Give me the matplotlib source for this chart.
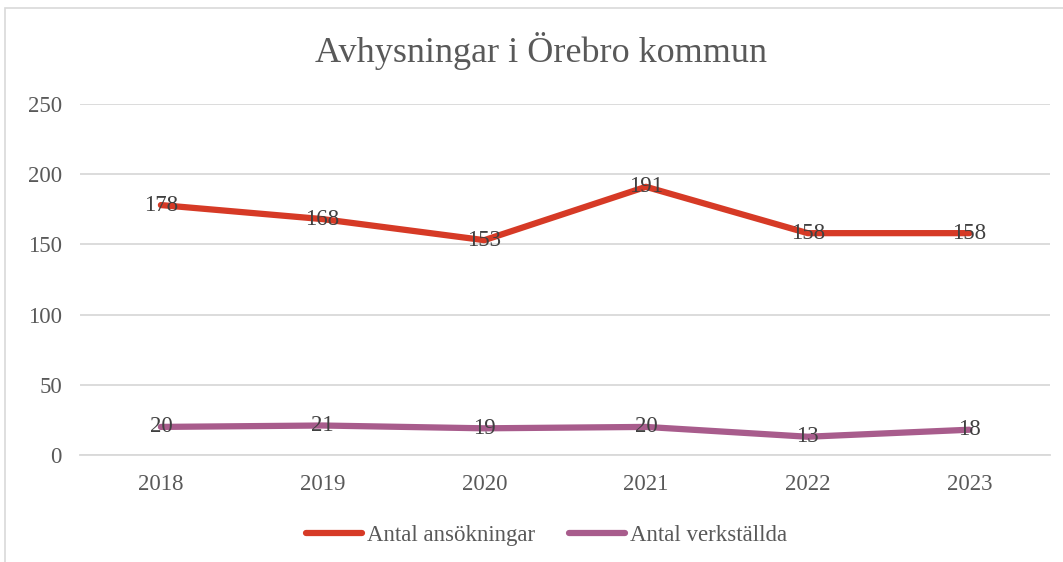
import matplotlib.pyplot as plt
from matplotlib.patches import Rectangle

years = ['2018', '2019', '2020', '2021', '2022', '2023']
ansokningar = [178, 168, 153, 191, 158, 158]
verkstallda = [20, 21, 19, 20, 13, 18]

red = '#D63A26'
purple = '#A85C8C'
text_col = '#595959'

plt.rcParams['font.family'] = ['Liberation Serif', 'DejaVu Serif']

fig = plt.figure(figsize=(10.63, 5.62), dpi=100)
ax = fig.add_axes([0.0753, 0.1904, 0.9127, 0.6246])

x = list(range(len(years)))
ax.plot(x, ansokningar, color=red, lw=4.5, solid_capstyle='round', label='Antal ansökningar', zorder=3)
ax.plot(x, verkstallda, color=purple, lw=4.5, solid_capstyle='round', label='Antal verkställda', zorder=3)

# data labels centred on the points
for xi, v in zip(x, ansokningar):
    ax.text(xi, v, str(v), ha='center', va='center', fontsize=16.5, color='#404040', zorder=4)
for xi, v in zip(x, verkstallda):
    ax.text(xi, v, str(v), ha='center', va='center', fontsize=16.5, color='#404040', zorder=4)

ax.set_xlim(-0.5, 5.5)
ax.set_ylim(0, 250)
ax.set_yticks([0, 50, 100, 150, 200, 250])
ax.set_xticks(x)
ax.set_xticklabels(years)
ax.grid(axis='y', color='#D9D9D9', lw=1.3)
ax.set_axisbelow(True)
for s in ['top', 'right', 'left']:
    ax.spines[s].set_visible(False)
ax.spines['bottom'].set_color('#D9D9D9')
ax.spines['bottom'].set_linewidth(1.3)
ax.tick_params(axis='both', length=0, labelsize=16.5, labelcolor=text_col)
ax.tick_params(axis='y', pad=13)
ax.tick_params(axis='x', pad=14)

fig.text(0.509, 0.91, 'Avhysningar i Örebro kommun', ha='center', va='center',
         fontsize=26, color=text_col)

leg = fig.legend(loc='center', bbox_to_anchor=(0.514, 0.047), ncol=2, frameon=False,
                 fontsize=16.5, labelcolor=text_col, handlelength=2.45, handletextpad=0.2,
                 columnspacing=1.5)

# outer chart border (cut off at right and bottom like the screenshot)
fig.patches.append(Rectangle((0.005, -0.1), 1.2, 1.086, transform=fig.transFigure,
                             fill=False, edgecolor='#D9D9D9', lw=1.2))

fig.savefig('out.png', dpi=100)
